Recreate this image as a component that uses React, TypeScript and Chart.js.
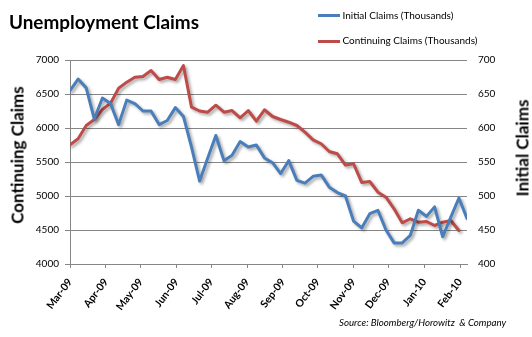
import React, { useEffect, useRef } from "react";
import { Chart, registerables } from "chart.js";

Chart.register(...registerables);

// Weekly values, first week at Mar-09, one point per week
const initialClaims = [
  655, 672, 659, 613, 644, 636, 605, 641, 636, 625,
  625, 605, 611, 630, 617, 572, 522, 556, 589, 552,
  560, 580, 572, 575, 556, 549, 533, 552, 523, 519,
  529, 531, 513, 505, 500, 463, 453, 474, 479, 450,
  431, 431, 442, 479, 470, 484, 440, 469, 497, 467,
];

const continuingClaims = [
  5753, 5841, 6037, 6125, 6272, 6365, 6585, 6674, 6747, 6757,
  6846, 6713, 6747, 6713, 6919, 6306, 6250, 6232, 6335, 6232,
  6257, 6150, 6257, 6100, 6268, 6169, 6125, 6085, 6037, 5938,
  5826, 5768, 5654, 5621, 5455, 5474, 5200, 5213, 5056, 4982,
  4812, 4606, 4665, 4615, 4625, 4566, 4615, 4640, 4493,
];

const monthLabels = [
  "Mar-09", "Apr-09", "May-09", "Jun-09", "Jul-09", "Aug-09",
  "Sep-09", "Oct-09", "Nov-09", "Dec-09", "Jan-10", "Feb-10",
];

const leftTicks = [4000, 4500, 5000, 5500, 6000, 6500, 7000];
const rightTicks = [400, 450, 500, 550, 600, 650, 700];

const DAY = 86400000;
const startUTC = Date.UTC(2009, 2, 1);
const monthDays = monthLabels.map((_, i) => Math.round((Date.UTC(2009, 2 + i, 1) - startUTC) / DAY));
const weekDay = (i: number) => i * 7;

const FONT = "Lato, 'Open Sans', sans-serif";
const GRID = "#868686";
const BLUE = "#4a7ebb";
const RED = "#be4b48";

const shadowPlugin = {
  id: "lineShadow",
  beforeDatasetDraw(chart: any) {
    const ctx = chart.ctx;
    ctx.save();
    ctx.shadowColor = "rgba(0,0,0,0.35)";
    ctx.shadowBlur = 3;
    ctx.shadowOffsetX = 2;
    ctx.shadowOffsetY = 2;
  },
  afterDatasetDraw(chart: any) {
    chart.ctx.restore();
  },
};

export default function App() {
  const ref = useRef<HTMLCanvasElement | null>(null);

  useEffect(() => {
    if (!ref.current) return;
    const chart = new Chart(ref.current, {
      type: "line",
      data: {
        datasets: [
          {
            label: "Initial Claims (Thousands)",
            data: initialClaims.map((v, i) => ({ x: weekDay(i), y: v })),
            yAxisID: "y1",
            borderColor: BLUE,
            backgroundColor: BLUE,
            borderWidth: 3,
            pointRadius: 0,
            tension: 0,
            borderJoinStyle: "round",
            borderCapStyle: "round",
          },
          {
            label: "Continuing Claims (Thousands)",
            data: continuingClaims.map((v, i) => ({ x: weekDay(i), y: v })),
            yAxisID: "y",
            borderColor: RED,
            backgroundColor: RED,
            borderWidth: 3,
            pointRadius: 0,
            tension: 0,
            borderJoinStyle: "round",
            borderCapStyle: "round",
          },
        ],
      },
      options: {
        animation: false,
        responsive: false,
        maintainAspectRatio: false,
        layout: { padding: { top: 60, left: 0, right: 0, bottom: 0 } },
        plugins: {
          legend: { display: false },
          tooltip: { enabled: false },
          title: { display: false },
        },
        scales: {
          x: {
            type: "linear",
            position: "bottom",
            min: 0,
            max: weekDay(initialClaims.length - 1),
            afterBuildTicks: (scale: any) => {
              scale.ticks = monthDays.map((v) => ({ value: v }));
            },
            afterFit: (scale: any) => {
              scale.height = 73;
            },
            ticks: {
              autoSkip: false,
              minRotation: 53,
              maxRotation: 53,
              padding: 8,
              color: "#000",
              font: { family: FONT, size: 10.5, weight: "bold" },
              callback: (value: any) => monthLabels[monthDays.indexOf(Number(value))],
            },
            grid: {
              drawOnChartArea: false,
              drawTicks: true,
              tickLength: 4,
              color: GRID,
            },
            border: { display: true, color: GRID, width: 1 },
          },
          y: {
            type: "linear",
            position: "left",
            min: 4000,
            max: 7000,
            afterBuildTicks: (scale: any) => {
              scale.ticks = leftTicks.map((v) => ({ value: v }));
            },
            afterFit: (scale: any) => {
              scale.width = 70;
            },
            ticks: {
              padding: 6,
              color: "#000",
              font: { family: FONT, size: 10 },
              callback: (value: any) => String(value),
            },
            grid: { color: GRID, tickLength: 5, drawTicks: true },
            border: { display: true, color: GRID, width: 1 },
          },
          y1: {
            type: "linear",
            position: "right",
            min: 400,
            max: 700,
            afterBuildTicks: (scale: any) => {
              scale.ticks = rightTicks.map((v) => ({ value: v }));
            },
            afterFit: (scale: any) => {
              scale.width = 65;
            },
            ticks: {
              padding: 11,
              color: "#000",
              font: { family: FONT, size: 10 },
              callback: (value: any) => String(value),
            },
            grid: { display: false, drawTicks: false, drawOnChartArea: false },
            border: { display: false },
          },
        },
      },
      plugins: [shadowPlugin],
    } as any);
    return () => chart.destroy();
  }, []);

  const text: React.CSSProperties = {
    position: "absolute",
    fontFamily: FONT,
    color: "#000",
    lineHeight: 1,
    whiteSpace: "nowrap",
    margin: 0,
  };

  return (
    <div style={{ position: "absolute", left: 0, top: 0, width: 532, height: 337, background: "#fff" }}>
      <canvas ref={ref} width={532} height={337} style={{ display: "block", width: 532, height: 337 }} />
      <div style={{ ...text, left: 9, top: 12.8, fontSize: 18.9, fontWeight: "bold" }}>Unemployment Claims</div>
      <div style={{ position: "absolute", left: 318, top: 14, width: 22, height: 3, background: BLUE }} />
      <div style={{ ...text, left: 342.5, top: 9.6, fontSize: 10 }}>Initial Claims (Thousands)</div>
      <div style={{ position: "absolute", left: 318, top: 39.5, width: 22, height: 3, background: RED }} />
      <div style={{ ...text, left: 342.5, top: 34.8, fontSize: 10 }}>Continuing Claims (Thousands)</div>
      <div
        style={{
          ...text,
          left: 17,
          top: 155,
          fontSize: 17,
          fontWeight: "bold",
          transform: "translate(-50%, -50%) rotate(-90deg)",
        }}
      >
        Continuing Claims
      </div>
      <div
        style={{
          ...text,
          left: 522,
          top: 147.5,
          fontSize: 17,
          fontWeight: "bold",
          transform: "translate(-50%, -50%) rotate(-90deg)",
        }}
      >
        Initial Claims
      </div>
      <div style={{ ...text, left: 339, top: 318, fontSize: 9.7, fontStyle: "italic" }}>
        Source: Bloomberg/Horowitz&nbsp;&nbsp;&amp; Company
      </div>
    </div>
  );
}
